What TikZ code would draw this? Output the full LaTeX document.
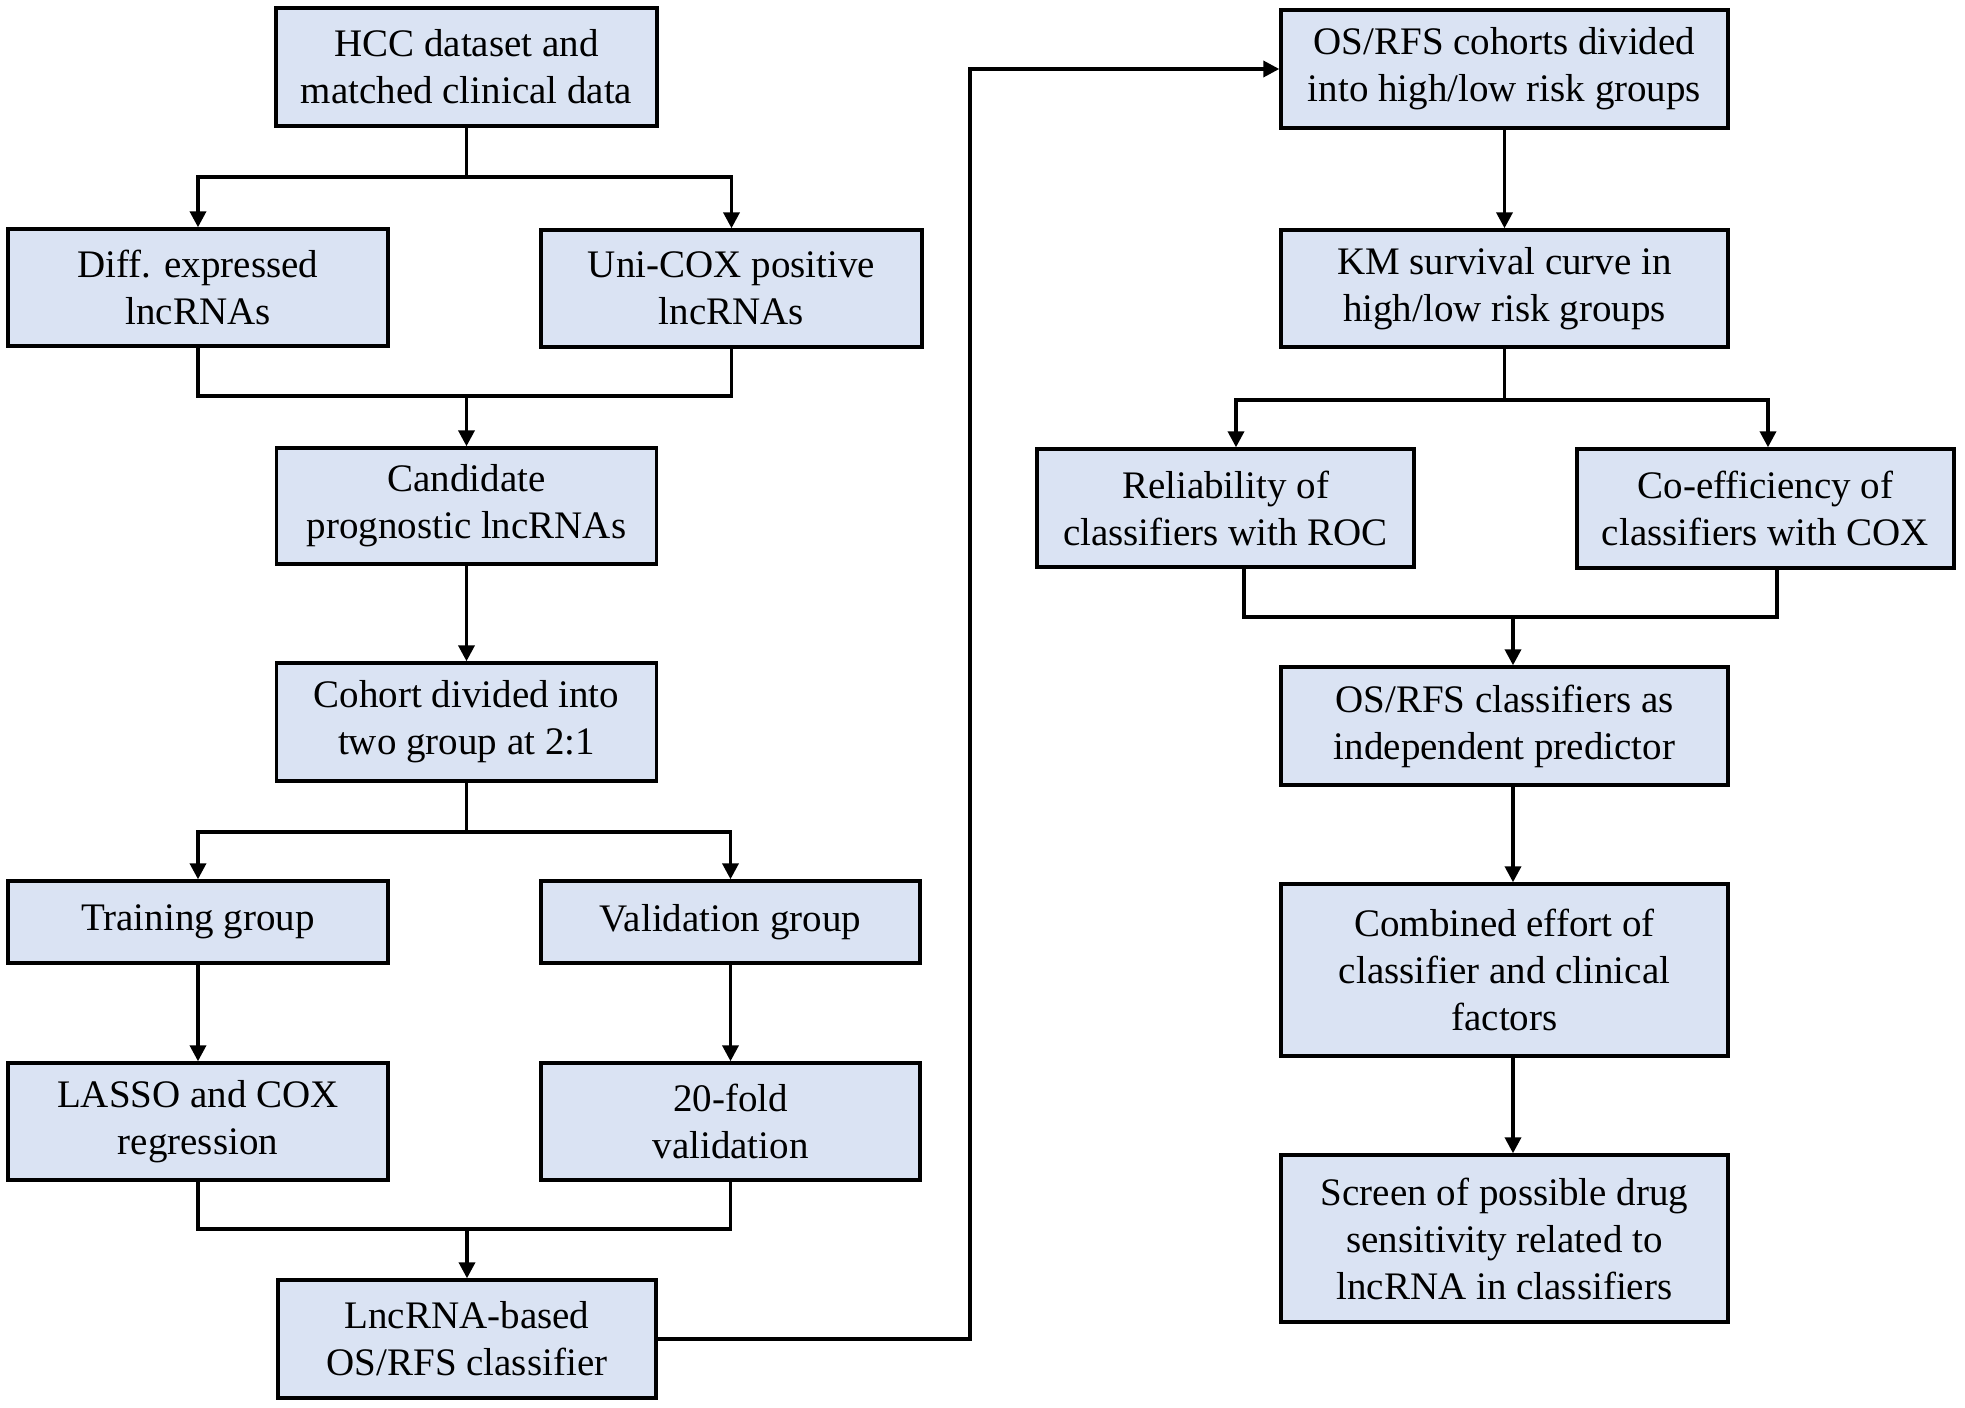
\documentclass[tikz,border=0pt]{standalone}
\usepackage{fontspec}
\setmainfont{Liberation Serif}
\usetikzlibrary{arrows.meta,calc}
\definecolor{boxfill}{HTML}{DAE3F3}
\begin{document}
\begin{tikzpicture}[x=0.5pt,y=-0.5pt,
  box/.style={draw=black, line width=1.7pt, fill=boxfill, align=center, inner sep=0pt,
    font=\fontsize{19.5}{23.5}\selectfont},
  conn/.style={line width=1.8pt},
  arr/.style={conn, -{Triangle[length=8pt,width=8pt]}}]
\useasboundingbox (0,0) rectangle (1965,1408);
% left column
\node[box, minimum width=190.5pt, minimum height=59pt] (hcc) at (466.5,67) {HCC dataset and\\matched clinical data};
\node[box, minimum width=190pt, minimum height=58.5pt] (diff) at (198,287.5) {Diff. expressed\\lncRNAs};
\node[box, minimum width=190.5pt, minimum height=58.5pt] (uni) at (731.5,288.5) {Uni-COX positive\\lncRNAs};
\node[box, minimum width=190pt, minimum height=58pt] (cand) at (466.5,506) {Candidate\\prognostic lncRNAs};
\node[box, minimum width=190pt, minimum height=59pt] (cohort) at (466.5,722) {Cohort divided into\\two group at 2:1};
\node[box, minimum width=190pt, minimum height=41pt] (train) at (198,922) {Training group};
\node[box, minimum width=189.5pt, minimum height=41pt] (valid) at (730.5,922) {Validation group};
\node[box, minimum width=190pt, minimum height=58.5pt] (lasso) at (198,1121.5) {LASSO and COX\\regression};
\node[box, minimum width=189.5pt, minimum height=58.5pt] (fold) at (730.5,1121.5) {20-fold\\validation};
\node[box, minimum width=189pt, minimum height=59pt] (lnc) at (467,1339) {LncRNA-based\\OS/RFS classifier};
% right column
\node[box, minimum width=223.5pt, minimum height=59pt] (osc) at (1504.5,69) {OS/RFS cohorts divided\\into high/low risk groups};
\node[box, minimum width=223.5pt, minimum height=58.5pt] (km) at (1504.5,288.5) {KM survival curve in\\high/low risk groups};
\node[box, minimum width=188.5pt, minimum height=59pt] (rel) at (1225.5,508) {Reliability of\\classifiers with ROC};
\node[box, minimum width=188.5pt, minimum height=59.5pt] (coef) at (1765.5,508.5) {Co-efficiency of\\classifiers with COX};
\node[box, minimum width=223.5pt, minimum height=59pt] (oscl) at (1504.5,726) {OS/RFS classifiers as\\independent predictor};
\node[box, minimum width=223.5pt, minimum height=86pt] (comb) at (1504.5,970) {Combined effort of\\classifier and clinical\\factors};
\node[box, minimum width=223.5pt, minimum height=83.5pt] (screen) at (1504.5,1238.5) {Screen of possible drug\\sensitivity related to\\lncRNA in classifiers};
% left connectors
\coordinate (s1) at (466.5,177);
\draw[conn] (hcc.south) -- (s1);
\draw[arr] (s1) -| (diff.north);
\draw[arr] (s1) -| (uni.north);
\coordinate (m1) at (466.5,396);
\draw[conn] (diff.south) |- (m1) -| (uni.south);
\draw[arr] (m1) -- (m1 |- cand.north);
\draw[arr] (cand.south) -- (cohort.north);
\coordinate (s2) at (466.5,832);
\draw[conn] (cohort.south) -- (s2);
\draw[arr] (s2) -| (train.north);
\draw[arr] (s2) -| (valid.north);
\draw[arr] (train.south) -- (train.south |- lasso.north);
\draw[arr] (valid.south) -- (valid.south |- fold.north);
\coordinate (m2) at (467,1229);
\draw[conn] (lasso.south) |- (m2) -| (fold.south);
\draw[arr] (m2) -- (m2 |- lnc.north);
% long connector
\coordinate (rx) at (970,0);
\draw[arr] (lnc.east) -| (rx |- osc.west) -- (osc.west);
% right connectors
\draw[arr] (osc.south) -- (km.north);
\coordinate (s3) at (1504.5,400);
\draw[conn] (km.south) -- (s3);
\draw[arr] (s3) -| ($(rel.north)+(10.5,0)$);
\draw[arr] (s3) -| ($(coef.north)+(2.5,0)$);
\coordinate (m3) at (1513,617);
\draw[conn] ($(rel.south)+(18.5,0)$) |- (m3) -| ($(coef.south)+(11.5,0)$);
\draw[arr] (m3) -- (m3 |- oscl.north);
\draw[arr] ($(oscl.south)+(8.5,0)$) -- ($(comb.north)+(8.5,0)$);
\draw[arr] ($(comb.south)+(8.5,0)$) -- ($(screen.north)+(8.5,0)$);
\end{tikzpicture}
\end{document}
